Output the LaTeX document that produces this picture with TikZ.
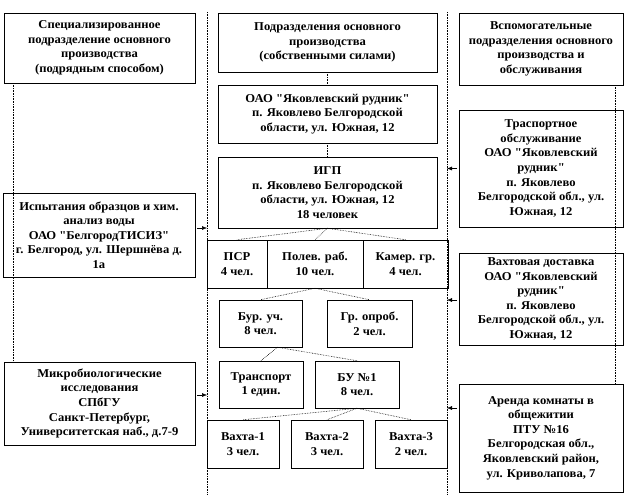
\documentclass[tikz,border=0pt]{standalone}
\usepackage{fontspec}
\setmainfont{Liberation Serif}[Ligatures=TeXOff,FakeStretch=1.05]
\usetikzlibrary{arrows.meta}
\tikzset{
	unit/.style={draw,line width=0.5pt,align=center,inner sep=1pt,font=\fontsize{12}{14.6}\selectfont\bfseries},
	link/.style={densely dotted,line width=0.6pt},
	feed/.style={line width=0.5pt,-{Latex[length=5pt,width=4pt]}}
}
\begin{document}
\begin{tikzpicture}[x=1pt,y=-1pt]
		\useasboundingbox (0,0) rectangle (630,504);
		\path
		(207,12) coordinate (sepLtop)
		(207,495) coordinate (sepLbot)
		(447,12) coordinate (sepRtop)
		(447,495) coordinate (sepRbot)
		;
		% left column
		\node[unit,minimum width=191pt,minimum height=70pt] (lhead) at (99.5,48) {Специализированное\\подразделение основного\\производства\\(подрядным способом)};
		\node[unit,minimum width=192pt,minimum height=84pt] (ltest) at (99,235) {Испытания образцов и хим.\\анализ воды\\ОАО "БелгородТИСИЗ"\\г. Белгород, ул. Шершнёва д.\\1а};
		\node[unit,minimum width=191pt,minimum height=83pt] (lmicro) at (99.5,403.5) {Микробиологические\\исследования\\СПбГУ\\Санкт-Петербург,\\Университетская наб., д.7-9};
		% middle column
		\node[unit,minimum width=219pt,minimum height=59pt] (mhead) at (327.5,42.5) {Подразделения основного\\производства\\(собственными силами)};
		\node[unit,minimum width=219pt,minimum height=58pt] (mrud) at (327.5,114) {ОАО "Яковлевский рудник"\\п. Яковлево Белгородской\\области, ул. Южная, 12};
		\node[unit,minimum width=219pt,minimum height=71pt] (igp) at (327.5,192.5) {ИГП\\п. Яковлево Белгородской\\области, ул. Южная, 12\\18 человек};
		\node[unit,minimum width=60pt,minimum height=48pt] (psr) at (237,264) {ПСР\\4 чел.};
		\node[unit,minimum width=96pt,minimum height=48pt] (polev) at (315,264) {Полев. раб.\\10 чел.};
		\node[unit,minimum width=85pt,minimum height=48pt] (kamer) at (405.5,264) {Камер. гр.\\4 чел.};
		\node[unit,minimum width=83pt,minimum height=47pt] (bur) at (260.5,323.5) {Бур. уч.\\8 чел.};
		\node[unit,minimum width=85pt,minimum height=47pt] (grop) at (369.5,323.5) {Гр. опроб.\\2 чел.};
		\node[unit,minimum width=84pt,minimum height=47pt] (transp) at (261,384.5) {Транспорт\\1 един.};
		\node[unit,minimum width=84pt,minimum height=47pt] (bu1) at (357,384.5) {БУ №1\\8 чел.};
		\node[unit,minimum width=72pt,minimum height=48pt] (vakh1) at (243,444) {Вахта-1\\3 чел.};
		\node[unit,minimum width=72pt,minimum height=48pt] (vakh2) at (327,444) {Вахта-2\\3 чел.};
		\node[unit,minimum width=72pt,minimum height=48pt] (vakh3) at (411,444) {Вахта-3\\2 чел.};
		% right column
		\node[unit,minimum width=164pt,minimum height=72pt] (rhead) at (541,49) {Вспомогательные\\подразделения основного\\производства и\\обслуживания};
		\node[unit,minimum width=164pt,minimum height=117pt] (rtrans) at (541,168.5) {Траспортное\\обслуживание\\ОАО "Яковлевский\\рудник"\\п. Яковлево\\Белгородской обл., ул.\\Южная, 12};
		\node[unit,minimum width=164pt,minimum height=92pt] (rvakh) at (541,299) {Вахтовая доставка\\ОАО "Яковлевский\\рудник"\\п. Яковлево\\Белгородской обл., ул.\\Южная, 12};
		\node[unit,minimum width=164pt,minimum height=108pt] (rrent) at (541,438) {Аренда комнаты в\\общежитии\\ПТУ №16\\Белгородская обл.,\\Яковлевский район,\\ул. Криволапова, 7};
		% separators
		\draw[link] (sepLtop)--(sepLbot) (sepRtop)--(sepRbot);
		\draw[link]
		([xshift=-86pt]lhead.south)--([xshift=-86pt]lmicro.north)
		([xshift=74pt]rhead.south)--([xshift=74pt]rrent.north)
		(mhead)--(mrud)
		(mrud)--(igp)
		;
		\foreach \t in {psr,polev,kamer} \draw[link] (igp.south)--(\t.north);
		\foreach \t in {bur,grop} \draw[link] (polev.south)--(\t.north);
		\foreach \t in {transp,bu1} \draw[link] ([xshift=17pt]bur.south)--(\t.north);
		\foreach \t in {vakh1,vakh2,vakh3} \draw[link] (bu1.south)--(\t.north);
		% links to the main column
		\draw[feed] ([xshift=2pt,yshift=7pt]ltest.east)--([yshift=7pt]ltest.east-|sepLtop);
		\draw[feed] ([xshift=2pt,yshift=8.5pt]lmicro.east)--([yshift=8.5pt]lmicro.east-|sepLtop);
		\draw[feed] ([xshift=-2pt]rtrans.west)--(rtrans.west-|sepRtop);
		\draw[feed] ([xshift=-2pt,yshift=-1pt]rvakh.west)--([yshift=-1pt]rvakh.west-|sepRtop);
		\draw[feed] ([xshift=-2pt,yshift=30pt]rrent.west)--([yshift=30pt]rrent.west-|sepRtop);
\end{tikzpicture}
\end{document}
